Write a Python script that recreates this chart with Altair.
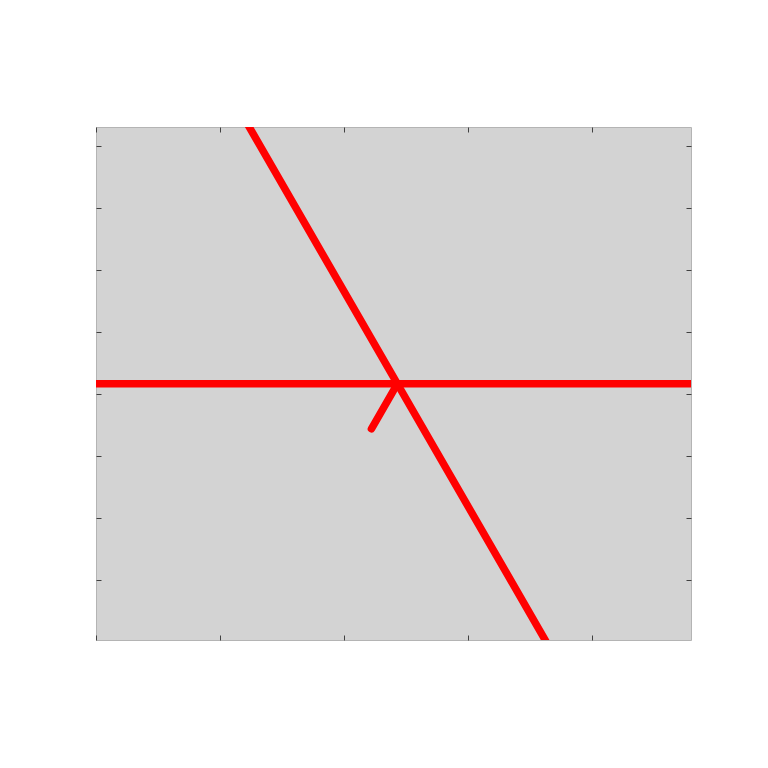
import altair as alt
import pandas as pd

# Axis tick positions (no labels shown in the reference)
x_ticks = [0, 1, 2, 3, 4]
y_ticks = [1, 2, 3, 4, 5, 6, 7, 8]
x_domain = [0, 4.8]
y_domain = [0.03, 8.3]

# Line segments: horizontal line, long diagonal, short reflected segment
seg_id = ["horizontal", "horizontal", "diagonal", "diagonal", "short", "short"]
seg_order = [0, 1, 0, 1, 0, 1]
seg_x = [-0.2, 5.0, 1.109, 3.762, 2.222, 2.431]
seg_y = [4.16, 4.16, 8.74, -0.45, 3.435, 4.16]

df = pd.DataFrame({"seg": seg_id, "order": seg_order, "x": seg_x, "y": seg_y})

xs = alt.Scale(domain=x_domain, nice=False, zero=False)
ys = alt.Scale(domain=y_domain, nice=False, zero=False)

def ax(orient, values):
    return alt.Axis(orient=orient, values=values, labels=False, title=None,
                    domain=False, grid=False, ticks=True, tickSize=5,
                    offset=-5, tickColor="#404040", tickWidth=1)

lines = alt.Chart(df).mark_line(
    color="#ff0000", strokeWidth=7.5, strokeCap="round", clip=True
).encode(
    x=alt.X("x:Q", scale=xs, axis=ax("bottom", x_ticks)),
    y=alt.Y("y:Q", scale=ys, axis=ax("left", y_ticks)),
    detail="seg:N",
    order="order:Q",
)

ghost = alt.Chart(df).mark_line(opacity=0, clip=True).encode(
    x=alt.X("x:Q", scale=xs, axis=ax("top", x_ticks)),
    y=alt.Y("y:Q", scale=ys, axis=ax("right", y_ticks)),
    detail="seg:N",
    order="order:Q",
)

chart = alt.layer(lines, ghost).resolve_axis(
    x="independent", y="independent"
).properties(
    width=595, height=513,
    autosize=alt.AutoSizeParams(type="none"),
    padding={"left": 88, "top": 119, "right": 40, "bottom": 60},
).configure_view(
    fill="#d3d3d3", stroke="#b4b4b4", strokeWidth=1
)

chart.save("out.html", embed_options={"renderer": "svg", "actions": False})
